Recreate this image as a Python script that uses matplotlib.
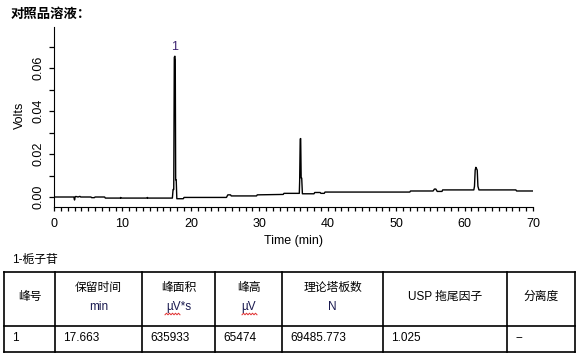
import numpy as np
import matplotlib.pyplot as plt

plt.rcParams['font.family'] = ['Liberation Sans', 'Noto Sans CJK SC']

# chromatogram trace (min, volts)
t = [0.0, 2.9, 3.0, 3.1, 3.3, 3.5, 3.8, 3.9,
     5.4, 5.5, 5.9, 6.0, 7.4, 7.5,
     9.7, 9.75, 9.8, 13.6, 13.65, 13.7,
     17.3, 17.4, 17.5, 17.58, 17.663, 17.72, 17.78, 17.86, 17.95,
     18.9, 19.0, 25.2, 25.4, 25.8, 25.9, 29.6, 29.7, 33.5, 33.6,
     35.85, 35.9, 35.98, 36.05, 36.12, 36.2, 36.3,
     38.0, 38.1, 38.9, 39.0, 39.5, 39.6, 52.0, 52.1,
     55.4, 55.6, 55.8, 56.0, 56.7, 56.8,
     61.35, 61.45, 61.55, 61.65, 61.75, 61.85, 61.95, 62.1,
     67.5, 67.6, 70.0]
v = [0.0, 0.0, -0.0014, 0.0002, 0.0002, 0.0, 0.0003, 0.0,
     0.0, -0.0003, -0.0003, 0.0, 0.0, -0.0005,
     -0.0005, -0.0002, -0.0005, -0.0005, -0.0002, -0.0005,
     -0.0005, 0.0035, 0.0035, 0.0650, 0.0655, 0.0640, 0.0080, 0.0080, -0.0008,
     -0.0008, -0.0002, -0.0002, 0.0010, 0.0010, 0.0005, 0.0005, 0.0010, 0.0012, 0.0017,
     0.0017, 0.0075, 0.0270, 0.0272, 0.0088, 0.0088, 0.0015,
     0.0015, 0.0021, 0.0021, 0.0017, 0.0017, 0.0023, 0.0023, 0.0028,
     0.0028, 0.0037, 0.0037, 0.0026, 0.0026, 0.0033,
     0.0033, 0.0050, 0.0125, 0.0138, 0.0132, 0.0125, 0.0050, 0.0033,
     0.0033, 0.0028, 0.0028]

peak_no = ['1']
peak_t = [17.663]
peak_label_v = [0.0698]

title = '对照品溶液：'
table_title = '1-栀子苷'
head1 = ['峰号', '保留时间', '峰面积', '峰高', '理论塔板数', 'USP 拖尾因子', '分离度']
head2 = ['', 'min', 'µV*s', 'µV', 'N', '', '']
row = ['1', '17.663', '635933', '65474', '69485.773', '1.025', '--']

W, H = 582, 359
fig = plt.figure(figsize=(W / 100, H / 100), dpi=100)

# chart axes in pixel layout
x0, x1, ytop, ybot = 54, 533, 27, 207
ax = fig.add_axes([x0 / W, 1 - ybot / H, (x1 - x0) / W, (ybot - ytop) / H])
ax.plot(t, v, color='black', lw=1.0)
for n, pt, pv in zip(peak_no, peak_t, peak_label_v):
    ax.text(pt, pv, n, ha='center', va='center', fontsize=9, color='#3c2370')
ax.set_xlim(0, 70)
ax.set_ylim(-0.00465, 0.0791)
ax.spines['top'].set_visible(False)
ax.spines['right'].set_visible(False)
ax.set_xticks(np.arange(0, 71, 10))
ax.set_xticks(np.arange(0, 71, 1), minor=True)
ax.set_yticks([0.0, 0.02, 0.04, 0.06])
ax.set_yticklabels(['0.00', '0.02', '0.04', '0.06'], rotation=90, va='center')
ax.set_yticks([0.01, 0.03, 0.05, 0.07], minor=True)
ax.tick_params(axis='x', which='both', length=2.6, width=0.9, labelsize=9, pad=5)
ax.tick_params(axis='y', which='both', length=3.6, width=0.9, labelsize=9, pad=3)
ax.patch.set_alpha(0)
fig.text(20 / W, 1 - 115 / H, 'Volts', rotation=90, ha='center', va='center', fontsize=9)
fig.text(293 / W, 1 - 241 / H, 'Time (min)', ha='center', va='center', fontsize=9)

# overlay for title and table, in pixels
ov = fig.add_axes([0, 0, 1, 1])
ov.set_xlim(0, W)
ov.set_ylim(H, 0)
ov.axis('off')
ov.patch.set_alpha(0)
ov.text(11, 15, title, fontsize=9.6, fontweight='heavy', va='center', ha='left')
ov.text(12, 260, table_title, fontsize=8.5, va='center', ha='left')

cols = [4, 55, 142, 215, 282, 383, 507, 575]
rows_y = [272, 326, 352]
for y in rows_y:
    ov.plot([cols[0], cols[-1]], [y, y], color='black', lw=1.2)
for x in cols:
    ov.plot([x, x], [rows_y[0], rows_y[-1]], color='black', lw=1.2)

for i in range(len(head1)):
    cx = (cols[i] + cols[i + 1]) / 2
    if head2[i]:
        ov.text(cx, 288, head1[i], fontsize=8.5, ha='center', va='center')
        ov.text(cx, 307, head2[i], fontsize=8.5, ha='center', va='center', color='#1a1a50')
    else:
        ov.text(cx, 297, head1[i], fontsize=8.5, ha='center', va='center')
    ov.text(cols[i] + 8, 338, row[i], fontsize=8.5, ha='left', va='center')

# red spell-check squiggles under the µV units
for sx0, sx1 in [(165, 180), (242, 257)]:
    xs = np.arange(sx0, sx1 + 0.1, 1.5)
    ys = 314 + np.where(np.arange(len(xs)) % 2 == 0, 0.8, -0.8)
    ov.plot(xs, ys, color='#e03030', lw=0.7)

fig.savefig('out.png', dpi=100)
